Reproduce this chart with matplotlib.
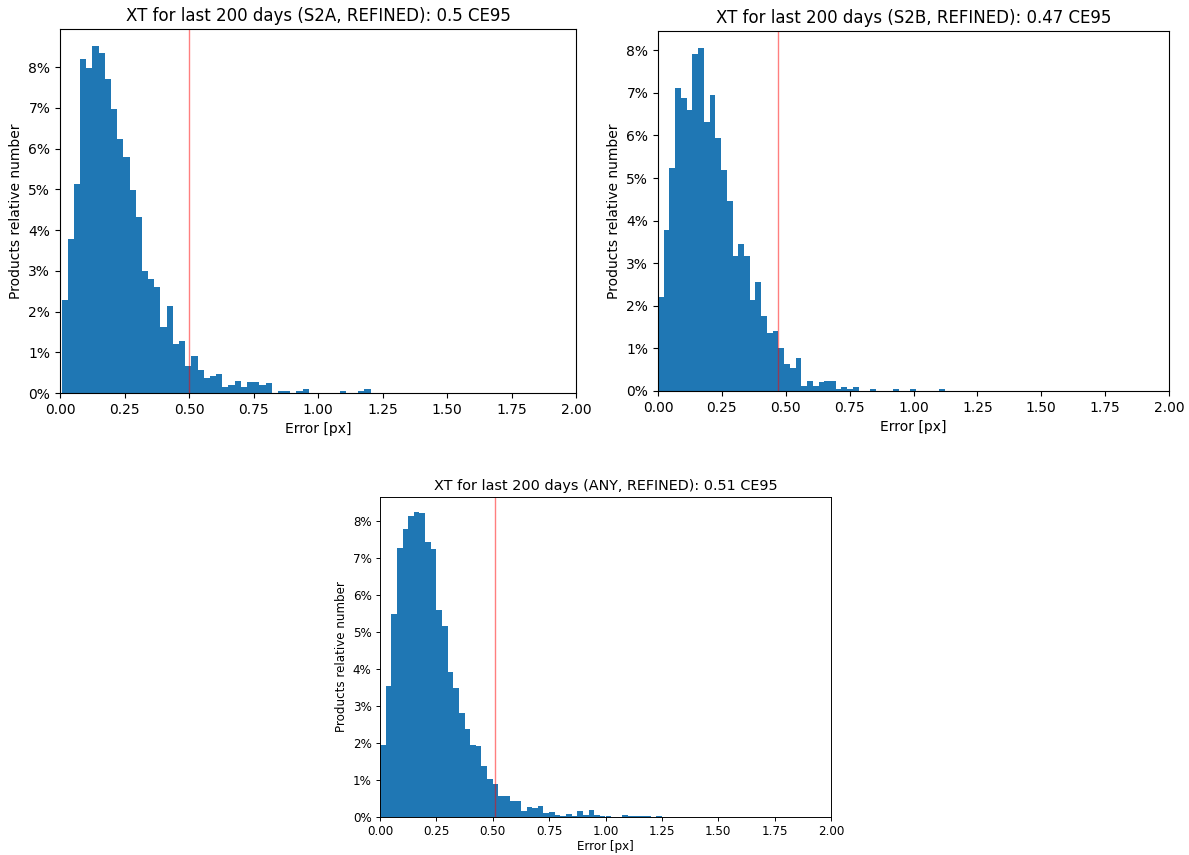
import numpy as np
import matplotlib
matplotlib.use("Agg")
import matplotlib.pyplot as plt
from matplotlib.ticker import PercentFormatter

# histogram bin edges (50 bins each)
edges_s2a = np.linspace(0.006, 1.204, 51)
edges_s2b = np.linspace(0.0, 1.122, 51)
edges_any = np.linspace(0.0, 1.25, 51)

# relative number of products per bin, in percent
pct_s2a = [2.28, 3.79, 5.13, 8.21, 7.98, 8.51, 8.34, 7.70, 6.97, 6.23,
           5.79, 4.98, 4.32, 3.00, 2.80, 2.60, 1.61, 2.14, 1.20, 1.28,
           0.66, 0.91, 0.56, 0.38, 0.42, 0.47, 0.15, 0.19, 0.29, 0.14,
           0.28, 0.28, 0.19, 0.24, 0.00, 0.05, 0.05, 0.00, 0.05, 0.10,
           0.00, 0.00, 0.00, 0.00, 0.00, 0.05, 0.00, 0.00, 0.05, 0.10]

pct_s2b = [2.20, 3.77, 5.23, 7.12, 6.88, 6.60, 7.92, 8.05, 6.32, 6.95,
           5.93, 5.19, 4.46, 3.17, 3.44, 3.17, 2.14, 2.56, 1.76, 1.37,
           1.40, 1.02, 0.64, 0.55, 0.77, 0.11, 0.24, 0.11, 0.20, 0.24,
           0.24, 0.045, 0.09, 0.045, 0.09, 0.00, 0.00, 0.045, 0.00, 0.00,
           0.00, 0.045, 0.00, 0.00, 0.045, 0.00, 0.00, 0.00, 0.00, 0.045]

pct_any = [1.95, 3.55, 5.48, 7.26, 7.77, 8.13, 8.23, 8.22, 7.42, 7.23,
           5.59, 5.17, 3.91, 3.48, 2.81, 2.38, 1.95, 1.91, 1.39, 1.03,
           0.88, 0.58, 0.58, 0.43, 0.43, 0.16, 0.28, 0.25, 0.31, 0.11,
           0.13, 0.05, 0.04, 0.08, 0.02, 0.16, 0.05, 0.19, 0.05, 0.02,
           0.02, 0.00, 0.00, 0.05, 0.04, 0.02, 0.04, 0.02, 0.00, 0.04]

# CE95 values
ce95 = [0.5, 0.47, 0.51]
titles = ["XT for last 200 days (S2A, REFINED): 0.5 CE95",
          "XT for last 200 days (S2B, REFINED): 0.47 CE95",
          "XT for last 200 days (ANY, REFINED): 0.51 CE95"]

W, H = 1189, 855
fig = plt.figure(figsize=(W / 100, H / 100), dpi=100)


def px_axes(x0, y0, x1, y1):
    # axes from pixel box (top-left origin)
    return fig.add_axes([x0 / W, 1 - y1 / H, (x1 - x0) / W, (y1 - y0) / H])


boxes = [(60, 29, 576, 393), (658, 31, 1169, 391), (380, 497, 831, 817)]
scales = [1.0, 1.0, 0.86]
data = [(edges_s2a, pct_s2a), (edges_s2b, pct_s2b), (edges_any, pct_any)]

for box, s, (edges, pct), ce, title in zip(boxes, scales, data, ce95, titles):
    ax = px_axes(*box)
    ax.hist(edges[:-1], bins=edges, weights=pct, color="#1f77b4")
    ax.axvline(ce, color="red", alpha=0.5, linewidth=1)
    ax.set_xlim(0, 2)
    ax.yaxis.set_major_formatter(PercentFormatter(xmax=100, decimals=0))
    ax.set_title(title, fontsize=12 * s, pad=6 * s)
    ax.set_xlabel("Error [px]", fontsize=10 * s, labelpad=4 * s if s == 1 else 1)
    ax.set_ylabel("Products relative number", fontsize=10 * s, labelpad=4 * s)
    ax.tick_params(labelsize=10 * s, length=3.5 * s, width=0.8 * s, pad=3.5 * s)
    for sp in ax.spines.values():
        sp.set_linewidth(0.8 * s)

fig.savefig("out.png", dpi=100)
